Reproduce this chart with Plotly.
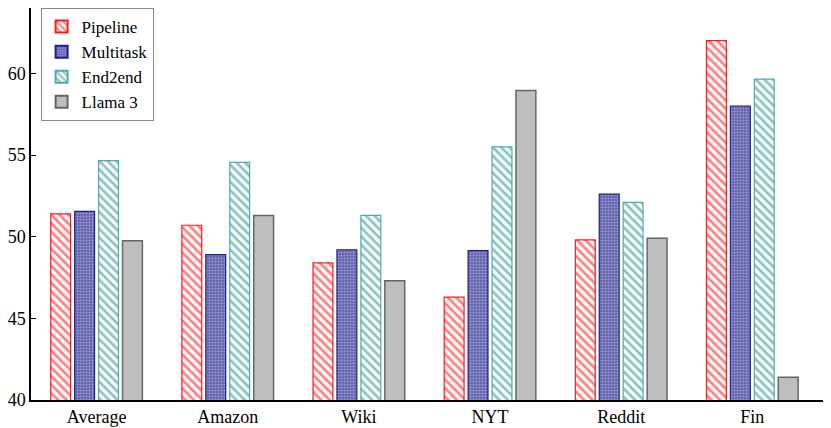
import plotly.graph_objects as go

categories = ["Average", "Amazon", "Wiki", "NYT", "Reddit", "Fin"]
pipeline = [51.4, 50.7, 48.4, 46.3, 49.8, 62.0]
multitask = [51.55, 48.9, 49.2, 49.15, 52.6, 58.0]
end2end = [54.65, 54.55, 51.3, 55.5, 52.1, 59.65]
llama3 = [49.75, 51.3, 47.3, 58.95, 49.9, 41.4]
y_ticks = [40, 45, 50, 55, 60]

x_pos = list(range(1, len(categories) + 1))
FONT = "Liberation Serif"

fig = go.Figure()
fig.add_trace(go.Bar(
    name="Pipeline", x=x_pos, y=pipeline,
    marker=dict(color="white", line=dict(color="#FF1A1A", width=1.2),
                pattern=dict(shape="\\", fgcolor="#FF0000", bgcolor="white",
                             size=6, solidity=0.45)),
))
fig.add_trace(go.Bar(
    name="Multitask", x=x_pos, y=multitask,
    marker=dict(color="white", line=dict(color="#1C1C9A", width=1.2),
                pattern=dict(shape=".", fgcolor="#D4D4F0", bgcolor="#6464AC",
                             size=3, solidity=0.35)),
))
fig.add_trace(go.Bar(
    name="End2end", x=x_pos, y=end2end,
    marker=dict(color="white", line=dict(color="#4FAAAA", width=1.2),
                pattern=dict(shape="\\", fgcolor="#0E8A8A", bgcolor="white",
                             size=6, solidity=0.45)),
))
fig.add_trace(go.Bar(
    name="Llama 3", x=x_pos, y=llama3,
    marker=dict(color="#BEBEBE", line=dict(color="#666666", width=1.5)),
))

fig.update_layout(
    width=823, height=420,
    margin=dict(l=15, r=0, t=0, b=28),
    paper_bgcolor="white", plot_bgcolor="white",
    barmode="group", bargap=0.27, bargroupgap=0.17,
    font=dict(family=FONT, size=18, color="black"),
    showlegend=True,
    legend=dict(x=0.012, y=1.0, xanchor="left", yanchor="top",
                bordercolor="#888888", borderwidth=1, bgcolor="white",
                font=dict(family=FONT, size=17), tracegroupgap=0,
                itemsizing="constant"),
    xaxis=dict(range=[0.5, 6.6], tickmode="array", tickvals=x_pos,
               ticktext=categories, showline=True, linecolor="black",
               linewidth=1.5, ticks="", showgrid=False, zeroline=False,
               tickfont=dict(family=FONT, size=18)),
    yaxis=dict(range=[40, 64.0], tickmode="array", tickvals=y_ticks,
               showline=True, linecolor="black", linewidth=1.5,
               ticks="inside", ticklen=5, tickcolor="black",
               showgrid=False, zeroline=False,
               tickfont=dict(family=FONT, size=18)),
)

fig.write_html("out.html")
